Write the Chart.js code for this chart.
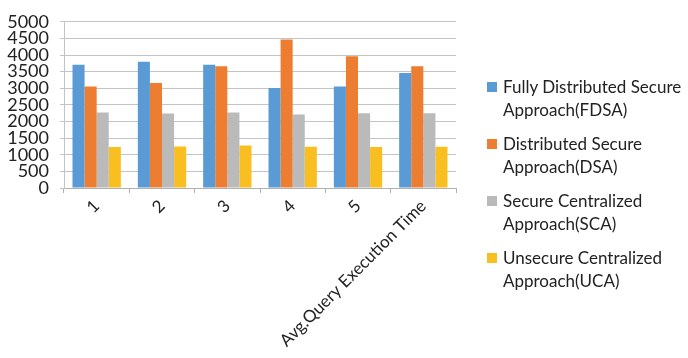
<!DOCTYPE html>
<html>
<head>
<meta charset="utf-8">
<script src="https://cdn.jsdelivr.net/npm/chart.js@4"></script>
<style>
    html, body { margin: 0; padding: 0; background: #fff; }
    #wrap { position: relative; width: 688px; height: 358px; }
    #legend {
        position: absolute; left: 487px; top: 75px;
        font-family: Lato, sans-serif; font-size: 17px; color: #222;
    }
    .item { position: relative; padding-left: 16px; line-height: 23px; height: 57px; white-space: nowrap; }
    .box { position: absolute; left: 0; top: 7px; width: 10px; height: 10px; }
</style>
</head>
<body>
<div id="wrap">
    <canvas id="chart"></canvas>
    <div id="legend"></div>
</div>
<script>
// 数据
const categories = ['1', '2', '3', '4', '5', 'Avg.Query Execution Time'];
const fdsa = [3710, 3800, 3710, 3010, 3050, 3460];
const dsa = [3050, 3160, 3660, 4470, 3960, 3660];
const sca = [2270, 2240, 2270, 2210, 2250, 2250];
const uca = [1230, 1250, 1280, 1240, 1230, 1240];
const yTicks = [0, 500, 1000, 1500, 2000, 2500, 3000, 3500, 4000, 4500, 5000];

const seriesNames = [
    ['Fully Distributed Secure', 'Approach(FDSA)'],
    ['Distributed Secure', 'Approach(DSA)'],
    ['Secure Centralized', 'Approach(SCA)'],
    ['Unsecure Centralized', 'Approach(UCA)']
];
const colors = ['#5B9BD5', '#ED7D31', '#BABABA', '#F9BE20'];
const values = [fdsa, dsa, sca, uca];

const datasets = values.map((v, i) => ({
    label: seriesNames[i].join(' '),
    data: v,
    backgroundColor: colors[i],
    borderWidth: 0
}));

const legend = document.getElementById('legend');
seriesNames.forEach((name, i) => {
    const div = document.createElement('div');
    div.className = 'item';
    div.innerHTML = `<span class="box" style="background:${colors[i]}"></span>${name[0]}<br>${name[1]}`;
    legend.appendChild(div);
});

new Chart(document.getElementById('chart'), {
    type: 'bar',
    data: { labels: categories, datasets: datasets },
    options: {
        responsive: true,
        maintainAspectRatio: false,
        animation: false,
        layout: { padding: { top: 3, right: 232, left: 0, bottom: 0 } },
        plugins: { legend: { display: false }, tooltip: { enabled: false } },
        datasets: { bar: { categoryPercentage: 0.74, barPercentage: 1 } },
        scales: {
            x: {
                grid: { display: true, drawOnChartArea: false, drawTicks: true, tickLength: 5, color: '#b0b0b0', offset: true },
                border: { color: '#b0b0b0' },
                ticks: { color: '#222', font: { family: 'Lato, sans-serif', size: 17 }, minRotation: 45, maxRotation: 45, autoSkip: false },
                afterFit: s => { s.height = 170; }
            },
            y: {
                min: 0,
                max: 5000,
                afterBuildTicks: s => { s.ticks = yTicks.map(v => ({ value: v })); },
                grid: { color: '#c4c4c4', tickLength: 4 },
                border: { color: '#c4c4c4' },
                ticks: {
                    color: '#222', font: { family: 'Lato, sans-serif', size: 18 }, padding: 11,
                    autoSkip: false, callback: v => String(v)
                },
                afterFit: s => { s.width = 64; }
            }
        }
    }
});
</script>
</body>
</html>
